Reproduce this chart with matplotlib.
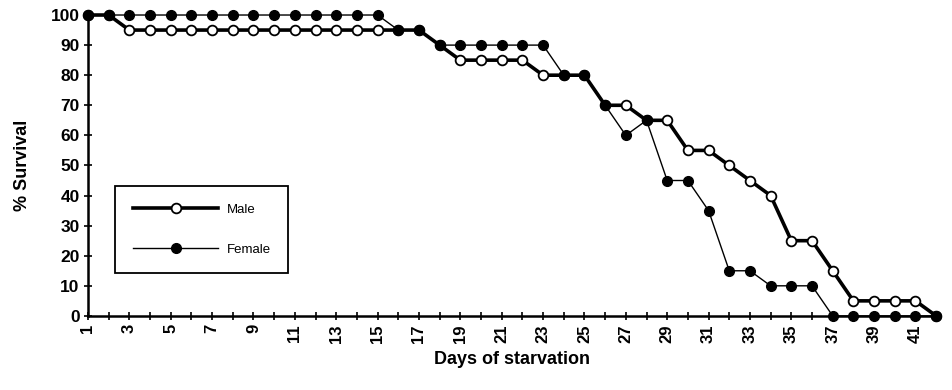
import matplotlib.pyplot as plt

plt.rcParams['font.family'] = ['Liberation Sans', 'DejaVu Sans']

# Survival data
days = list(range(1, 43))
male = [100, 100, 95, 95, 95, 95, 95, 95, 95, 95, 95, 95, 95, 95, 95, 95, 95,
        90, 85, 85, 85, 85, 80, 80, 80, 70, 70, 65, 65, 55, 55, 50, 45, 40,
        25, 25, 15, 5, 5, 5, 5, 0]
female = [100, 100, 100, 100, 100, 100, 100, 100, 100, 100, 100, 100, 100, 100, 100,
          95, 95, 90, 90, 90, 90, 90, 90, 80, 80, 70, 60, 65, 45, 45, 35, 15, 15,
          10, 10, 10, 0, 0, 0, 0, 0, 0]

fig = plt.figure(figsize=(9.53, 3.9), dpi=100)
ax = fig.add_axes([0.0923, 0.19, 0.890, 0.7715])

ax.plot(days, male, color='black', lw=2.6, marker='o', ms=7,
        mfc='white', mec='black', mew=1.3, label='Male', clip_on=False, zorder=3)
ax.plot(days, female, color='black', lw=1.0, marker='o', ms=7,
        mfc='black', mec='black', label='Female', clip_on=False, zorder=4)

ax.set_xlim(1, 42)
ax.set_ylim(0, 100)
ax.set_xticks(days)
ax.set_xticklabels([str(d) if d % 2 == 1 and d < 42 else '' for d in days],
                   rotation=90, fontweight='bold', fontsize=12)
ax.set_yticks(range(0, 101, 10))
ax.set_yticklabels([str(v) for v in range(0, 101, 10)], fontweight='bold', fontsize=12.5)
ax.tick_params(direction='inout', length=6, width=1.2, pad=3)

for side in ['top', 'right']:
    ax.spines[side].set_visible(False)
for side in ['left', 'bottom']:
    ax.spines[side].set_linewidth(1.8)

ax.set_xlabel('Days of starvation', fontweight='bold', fontsize=13, labelpad=6)
ax.set_ylabel('% Survival', fontweight='bold', fontsize=13, labelpad=14)

leg = ax.legend(loc='upper left', bbox_to_anchor=(0.024, 0.455), frameon=True,
                fancybox=False, edgecolor='black', framealpha=1, handlelength=6.5,
                labelspacing=2.1, borderpad=1.35, handletextpad=0.6,
                prop={'size': 9.5})
leg.get_frame().set_linewidth(1.3)

fig.savefig('out.png', dpi=100)
